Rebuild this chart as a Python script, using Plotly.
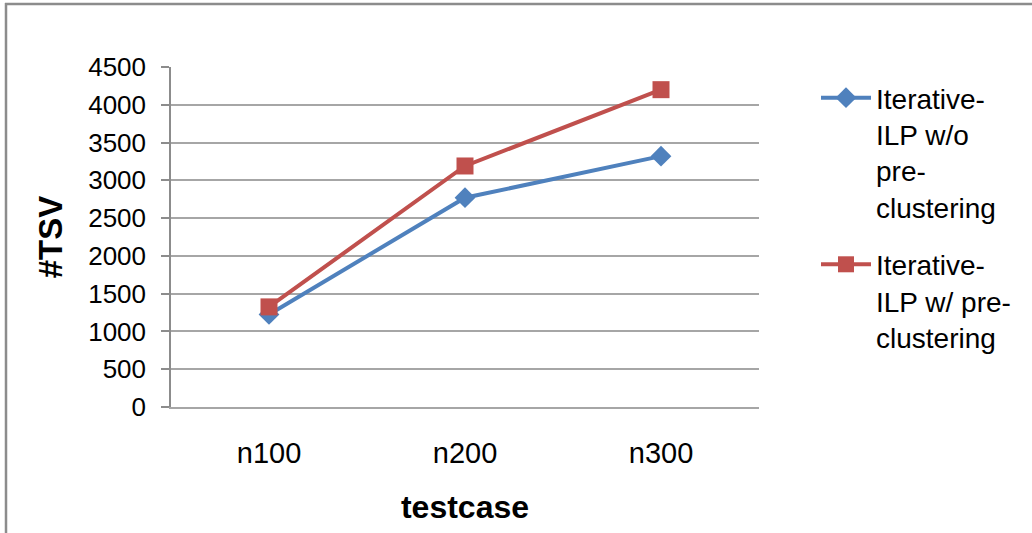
import plotly.graph_objects as go

categories = ["n100", "n200", "n300"]
series_names = ["Iterative-<br>ILP w/o<br>pre-<br>clustering",
                "Iterative-<br>ILP w/ pre-<br>clustering"]
without_pre = [1225, 2770, 3320]
with_pre = [1325, 3190, 4200]
y_ticks = [0, 500, 1000, 1500, 2000, 2500, 3000, 3500, 4000, 4500]

W, H = 1032, 533
L, R, T, B = 171, 1032 - 759, 67, 533 - 407.5
pw, ph = W - L - R, H - T - B

FONT = "Liberation Sans, Arial, sans-serif"

fig = go.Figure()
fig.add_trace(go.Scatter(
    x=categories, y=without_pre, name=series_names[0], mode="lines+markers",
    line=dict(color="#4F81BD", width=4),
    marker=dict(symbol="diamond", size=16, color="#4F81BD"),
    legendgroup="a"))
fig.add_trace(go.Scatter(
    x=categories, y=with_pre, name=series_names[1], mode="lines+markers",
    line=dict(color="#C0504D", width=4),
    marker=dict(symbol="square", size=17, color="#C0504D"),
    legendgroup="b"))

def px_x(x):
    return (x - L) / pw

def px_y(y):
    return (H - B - y) / ph

shapes = [
    dict(type="line", xref="paper", yref="paper", x0=px_x(6), x1=px_x(6),
         y0=px_y(600), y1=px_y(3), line=dict(color="#8c8c8c", width=2.5)),
    dict(type="line", xref="paper", yref="paper", x0=px_x(5), x1=px_x(1100),
         y0=px_y(4), y1=px_y(4), line=dict(color="#8c8c8c", width=2.5)),
]

fig.update_layout(
    width=W, height=H,
    margin=dict(l=L, r=R, t=T, b=B, pad=0),
    paper_bgcolor="white", plot_bgcolor="white",
    font=dict(family=FONT, color="black"),
    shapes=shapes,
    showlegend=True,
    legend=dict(
        x=px_x(816), y=px_y(73), xanchor="left", yanchor="top",
        font=dict(family=FONT, size=28, color="black"),
        valign="top", itemwidth=50, tracegroupgap=18,
        bgcolor="rgba(0,0,0,0)",
    ),
    xaxis=dict(
        type="category", range=[-0.5, 2.5],
        showgrid=False, showline=True, linecolor="#a6a6a6", linewidth=1.5,
        ticks="", tickfont=dict(family=FONT, size=29, color="black"),
        ticklabelstandoff=19,
        title=dict(text="<b>testcase</b>", font=dict(family=FONT, size=32, color="black"),
                   standoff=28),
        zeroline=False,
    ),
    yaxis=dict(
        range=[0, 4500], tickvals=y_ticks, ticktext=[str(v) for v in y_ticks],
        showgrid=True, gridcolor="#a6a6a6", gridwidth=1.5,
        showline=True, linecolor="#8c8c8c", linewidth=1.5,
        ticks="outside", ticklen=8, tickcolor="#8c8c8c", tickwidth=1.5,
        tickfont=dict(family=FONT, size=26, color="black"),
        ticklabelstandoff=10,
        title=dict(text="<b>#TSV</b>", font=dict(family=FONT, size=33, color="black"),
                   standoff=16),
        zeroline=False,
    ),
)

fig.write_html("out.html",
               config={"displayModeBar": False},
               post_script="document.body.style.margin='0';document.body.style.overflow='hidden';")
